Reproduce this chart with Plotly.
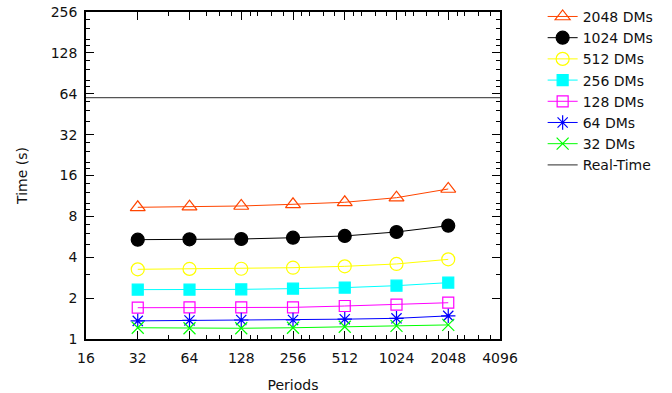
import math
import plotly.graph_objects as go

# ---- data ----
periods = [32, 64, 128, 256, 512, 1024, 2048]
t_2048 = [9.33, 9.43, 9.54, 9.82, 10.16, 10.98, 12.73]
t_1024 = [5.39, 5.42, 5.45, 5.57, 5.74, 6.14, 6.83]
t_512 = [3.26, 3.28, 3.29, 3.35, 3.43, 3.57, 3.86]
t_256 = [2.31, 2.31, 2.32, 2.35, 2.39, 2.47, 2.60]
t_128 = [1.70, 1.71, 1.71, 1.71, 1.75, 1.79, 1.85]
t_64 = [1.36, 1.37, 1.38, 1.38, 1.40, 1.42, 1.48]
t_32 = [1.21, 1.20, 1.20, 1.21, 1.23, 1.25, 1.27]
real_time = 60

x_ticks = [16, 32, 64, 128, 256, 512, 1024, 2048, 4096]
y_ticks = [1, 2, 4, 8, 16, 32, 64, 128, 256]
x_minor = [48, 80, 96, 112, 144, 160, 192, 224, 288, 320, 384, 448,
           576, 640, 768, 896, 1152, 1280, 1536, 1792, 2304, 2560, 3072, 3584]
y_minor = [3, 5, 6, 7, 9, 10, 12, 14, 18, 20, 24, 28, 40, 48, 56,
           72, 80, 96, 112, 144, 160, 192, 224]

series = [
    ("2048 DMs", t_2048, "#ff4500", "triangle-up-open", 13),
    ("1024 DMs", t_1024, "#000000", "circle", 13),
    ("512 DMs", t_512, "#ffff00", "circle-open", 13),
    ("256 DMs", t_256, "#00ffff", "square", 11),
    ("128 DMs", t_128, "#ff00ff", "square-open", 11),
    ("64 DMs", t_64, "#0000ff", "asterisk-open", 12),
    ("32 DMs", t_32, "#00ff00", "x-thin-open", 12),
]

FONT = "DejaVu Sans"
TXT = "#111111"
fig = go.Figure()
for name, vals, color, sym, size in series:
    fig.add_trace(go.Scatter(
        x=periods, y=vals, name=name, mode="lines+markers",
        line=dict(color=color, width=1),
        marker=dict(symbol=sym, size=size, color=color,
                    line=dict(color=color, width=1.2)),
    ))

fig.add_trace(go.Scatter(
    x=[x_ticks[0], x_ticks[-1]], y=[real_time, real_time], name="Real-Time",
    mode="lines", line=dict(color="#555555", width=1.3),
))

axis_common = dict(
    type="log", showline=True, linecolor="black", linewidth=1.5,
    mirror="allticks", ticks="inside", ticklen=8, tickwidth=1, tickcolor="black",
    showgrid=False, zeroline=False, automargin=False,
    tickfont=dict(family=FONT, size=14, color=TXT),
)

fig.update_xaxes(
    **axis_common,
    range=[math.log10(x_ticks[0]), math.log10(x_ticks[-1])],
    tickmode="array", tickvals=x_ticks, ticktext=[str(v) for v in x_ticks],
    minor=dict(tickmode="array", tickvals=x_minor, ticks="inside", ticklen=4,
               tickcolor="black", showgrid=False),
    title=dict(text="Periods", font=dict(family=FONT, size=14, color=TXT), standoff=16),
    ticklabelstandoff=5,
)
fig.update_yaxes(
    **axis_common,
    range=[math.log10(y_ticks[0]), math.log10(y_ticks[-1])],
    tickmode="array", tickvals=y_ticks, ticktext=[str(v) for v in y_ticks],
    minor=dict(tickmode="array", tickvals=y_minor, ticks="inside", ticklen=4,
               tickcolor="black", showgrid=False),
    title=dict(text="Time (s)", font=dict(family=FONT, size=14, color=TXT), standoff=20),
    ticklabelstandoff=4,
)

fig.update_layout(
    width=672, height=393,
    margin=dict(l=86, r=172, t=12, b=54, pad=0, autoexpand=False),
    plot_bgcolor="white", paper_bgcolor="white",
    font=dict(family=FONT, size=14, color=TXT),
    legend=dict(x=1.103, y=1.034, xanchor="left", yanchor="top",
                font=dict(family=FONT, size=14, color=TXT),
                bgcolor="rgba(0,0,0,0)", tracegroupgap=0, itemwidth=30),
    showlegend=True,
)

fig.write_html(
    "out.html",
    config={"displayModeBar": False},
    post_script="document.body.style.margin='0';document.body.style.overflow='hidden';",
)
